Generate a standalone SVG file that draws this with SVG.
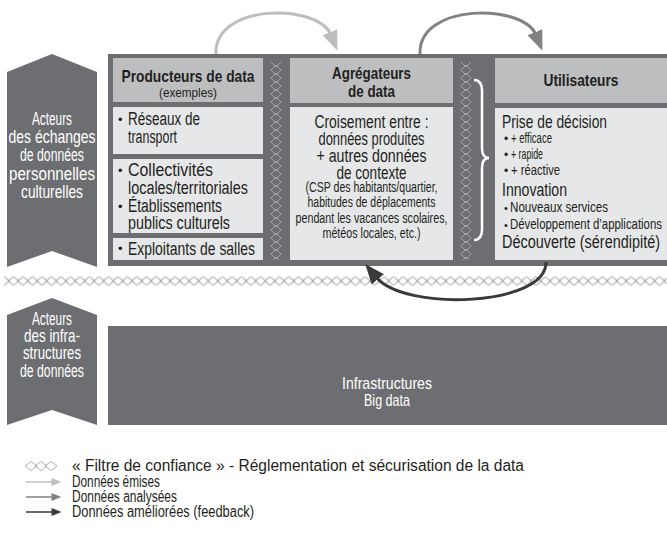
<svg xmlns="http://www.w3.org/2000/svg" width="667" height="534" viewBox="0 0 667 534">
<style>
.t{font-family:"Liberation Sans",Arial,sans-serif;fill:#231f20}
.w{fill:#ffffff}
.b{font-weight:bold}
.c{text-anchor:middle}
.dark{fill:#6d6e71}
.hdr{fill:#bcbec0}
.body{fill:#e6e7e8}
.a1{fill:none;stroke:#bcbec0;stroke-width:3}
.a2{fill:none;stroke:#808285;stroke-width:3}
.a3{fill:none;stroke:#3a3a3c;stroke-width:3}
</style>
<defs>
<marker id="h1" viewBox="0 0 20 16" refX="3" refY="8" markerWidth="6.67" markerHeight="5.33" orient="auto" markerUnits="strokeWidth"><path d="M0,0 L20,8 L0,16 Z" fill="#bcbec0"/></marker>
<marker id="h2" viewBox="0 0 20 16" refX="3" refY="8" markerWidth="6.67" markerHeight="5.33" orient="auto" markerUnits="strokeWidth"><path d="M0,0 L20,8 L0,16 Z" fill="#808285"/></marker>
<marker id="h3" viewBox="0 0 20 16" refX="3" refY="8" markerWidth="6.67" markerHeight="5.33" orient="auto" markerUnits="strokeWidth"><path d="M0,0 L20,8 L0,16 Z" fill="#3a3a3c"/></marker>
<pattern id="hchain" patternUnits="userSpaceOnUse" x="4" y="276.5" width="9.5" height="9"><path d="M-5.2,4.5 L0,0.2 L5.2,4.5 L0,8.8 Z M4.3,4.5 L9.5,0.2 L14.7,4.5 L9.5,8.8 Z" fill="none" stroke="#a7a9ac" stroke-width="1"/></pattern>
<pattern id="vchain" patternUnits="userSpaceOnUse" x="271" y="62" width="10" height="8"><path d="M0,0 L5,-5 L10,0 L5,5 Z M0,8 L5,3 L10,8 L5,13 Z" fill="none" stroke="#a7a9ac" stroke-width="0.9"/></pattern>
</defs>

<g id="chevron-echanges">
<polygon class="dark" points="7,72 52,54 97,72 97,267 52,251 7,267"/>
<text class="t w c" font-size="18" x="52" y="125" textLength="40" lengthAdjust="spacingAndGlyphs">Acteurs</text>
<text class="t w c" font-size="18" x="52" y="143" textLength="87" lengthAdjust="spacingAndGlyphs">des échanges</text>
<text class="t w c" font-size="18" x="52" y="161" textLength="64" lengthAdjust="spacingAndGlyphs">de données</text>
<text class="t w c" font-size="18" x="52" y="180" textLength="86" lengthAdjust="spacingAndGlyphs">personnelles</text>
<text class="t w c" font-size="18" x="52" y="198" textLength="62" lengthAdjust="spacingAndGlyphs">culturelles</text>
</g>

<g id="panel">
<rect class="dark" x="108" y="54" width="559" height="212"/>
<rect x="271" y="62" width="10" height="198" fill="url(#vchain)"/>
<rect x="461" y="62" width="10" height="198" fill="url(#vchain)"/>
<path d="M474,80 Q482,80 482,91 L482,148 Q482,158 489,158 Q482,158 482,168 L482,229 Q482,240 474,240" fill="none" stroke="#ffffff" stroke-width="2.5"/>
</g>

<g id="producteurs">
<rect class="hdr" x="113" y="58" width="150" height="44"/>
<text class="t b c" font-size="17" x="188" y="82" textLength="133" lengthAdjust="spacingAndGlyphs">Producteurs de data</text>
<text class="t c" font-size="13" x="188" y="97" textLength="58" lengthAdjust="spacingAndGlyphs">(exemples)</text>
<rect class="body" x="113" y="107" width="150" height="47"/>
<text class="t" font-size="13" x="118" y="124">•</text>
<text class="t" font-size="18" x="128" y="125" textLength="72" lengthAdjust="spacingAndGlyphs">Réseaux de</text>
<text class="t" font-size="18" x="128" y="143" textLength="49" lengthAdjust="spacingAndGlyphs">transport</text>
<rect class="body" x="113" y="159" width="150" height="74"/>
<text class="t" font-size="13" x="118" y="175">•</text>
<text class="t" font-size="18" x="128" y="176" textLength="85" lengthAdjust="spacingAndGlyphs">Collectivités</text>
<text class="t" font-size="18" x="128" y="194" textLength="120" lengthAdjust="spacingAndGlyphs">locales/territoriales</text>
<text class="t" font-size="13" x="118" y="211">•</text>
<text class="t" font-size="18" x="128" y="212" textLength="94" lengthAdjust="spacingAndGlyphs">Établissements</text>
<text class="t" font-size="18" x="128" y="229" textLength="102" lengthAdjust="spacingAndGlyphs">publics culturels</text>
<rect class="body" x="113" y="238" width="150" height="22"/>
<text class="t" font-size="13" x="118" y="253">•</text>
<text class="t" font-size="18" x="128" y="255" textLength="127" lengthAdjust="spacingAndGlyphs">Exploitants de salles</text>
</g>

<g id="agregateurs">
<rect class="hdr" x="290" y="58" width="163" height="45"/>
<text class="t b c" font-size="17" x="371.5" y="79" textLength="79" lengthAdjust="spacingAndGlyphs">Agrégateurs</text>
<text class="t b c" font-size="17" x="371.5" y="97" textLength="47" lengthAdjust="spacingAndGlyphs">de data</text>
<rect class="body" x="290" y="107" width="163" height="153"/>
<text class="t c" font-size="18" x="371.5" y="128" textLength="114" lengthAdjust="spacingAndGlyphs">Croisement entre :</text>
<text class="t c" font-size="18" x="371.5" y="145" textLength="106" lengthAdjust="spacingAndGlyphs">données produites</text>
<text class="t c" font-size="18" x="371.5" y="162" textLength="110" lengthAdjust="spacingAndGlyphs">+ autres données</text>
<text class="t c" font-size="18" x="371.5" y="179" textLength="70" lengthAdjust="spacingAndGlyphs">de contexte</text>
<text class="t c" font-size="14" x="371.5" y="192" textLength="132" lengthAdjust="spacingAndGlyphs">(CSP des habitants/quartier,</text>
<text class="t c" font-size="14" x="371.5" y="207" textLength="128" lengthAdjust="spacingAndGlyphs">habitudes de déplacements</text>
<text class="t c" font-size="14" x="371.5" y="223" textLength="152" lengthAdjust="spacingAndGlyphs">pendant les vacances scolaires,</text>
<text class="t c" font-size="14" x="371.5" y="238" textLength="98" lengthAdjust="spacingAndGlyphs">météos locales, etc.)</text>
</g>

<g id="utilisateurs">
<rect class="hdr" x="495" y="58" width="172" height="45"/>
<text class="t b c" font-size="17" x="581" y="86" textLength="75" lengthAdjust="spacingAndGlyphs">Utilisateurs</text>
<rect class="body" x="495" y="108" width="172" height="152"/>
<text class="t" font-size="18" x="502" y="128" textLength="105" lengthAdjust="spacingAndGlyphs">Prise de décision</text>
<text class="t" font-size="12" x="504" y="143">•</text>
<text class="t" font-size="15" x="511" y="143" textLength="41" lengthAdjust="spacingAndGlyphs">+ efficace</text>
<text class="t" font-size="12" x="504" y="159">•</text>
<text class="t" font-size="15" x="511" y="159" textLength="32" lengthAdjust="spacingAndGlyphs">+ rapide</text>
<text class="t" font-size="12" x="504" y="175">•</text>
<text class="t" font-size="15" x="511" y="175" textLength="49" lengthAdjust="spacingAndGlyphs">+ réactive</text>
<text class="t" font-size="18" x="502" y="196" textLength="65" lengthAdjust="spacingAndGlyphs">Innovation</text>
<text class="t" font-size="11" x="504" y="212">•</text>
<text class="t" font-size="14" x="510" y="212" textLength="98" lengthAdjust="spacingAndGlyphs">Nouveaux services</text>
<text class="t" font-size="11" x="504" y="229">•</text>
<text class="t" font-size="14" x="510" y="229" textLength="152" lengthAdjust="spacingAndGlyphs">Développement d’applications</text>
<text class="t" font-size="18" x="502" y="248" textLength="158" lengthAdjust="spacingAndGlyphs">Découverte (sérendipité)</text>
</g>

<g id="filtre">
<rect x="4" y="276.5" width="663" height="9" fill="url(#hchain)"/>
</g>

<g id="chevron-infra">
<polygon class="dark" points="7,315 52,298 97,315 97,425 52,410 7,425"/>
<text class="t w c" font-size="18" x="52" y="325" textLength="40" lengthAdjust="spacingAndGlyphs">Acteurs</text>
<text class="t w c" font-size="18" x="52" y="342" textLength="56" lengthAdjust="spacingAndGlyphs">des infra-</text>
<text class="t w c" font-size="18" x="52" y="359" textLength="58" lengthAdjust="spacingAndGlyphs">structures</text>
<text class="t w c" font-size="18" x="52" y="377" textLength="64" lengthAdjust="spacingAndGlyphs">de données</text>
</g>

<g id="infrastructures">
<rect class="dark" x="108" y="326" width="559" height="99"/>
<text class="t w c" font-size="17" x="387" y="389" textLength="90" lengthAdjust="spacingAndGlyphs">Infrastructures</text>
<text class="t w c" font-size="17" x="387" y="406" textLength="46" lengthAdjust="spacingAndGlyphs">Big data</text>
</g>

<g id="connectors">
<path class="a1" d="M216,54 C214,3 318,3 331,35" marker-end="url(#h1)"/>
<path class="a2" d="M420,54 C418,3 523,3 536,35" marker-end="url(#h2)"/>
<path class="a3" d="M546,262 C547,306 405,312 376,277" marker-end="url(#h3)"/>
</g>

<g id="legend">
<path d="M25,466 L31,461.5 L37,466 L31,470.5 Z M35,466 L41,461.5 L47,466 L41,470.5 Z M45,466 L51,461.5 L57,466 L51,470.5 Z" fill="none" stroke="#a7a9ac" stroke-width="0.9"/>
<text class="t" font-size="16" x="72" y="471" textLength="452" lengthAdjust="spacingAndGlyphs">« Filtre de confiance » - Réglementation et sécurisation de la data</text>
<path class="a1" style="stroke-width:1.5" d="M26,482 L53,482" marker-end="url(#h1)"/>
<text class="t" font-size="16" x="72" y="487" textLength="88" lengthAdjust="spacingAndGlyphs">Données émises</text>
<path class="a2" style="stroke-width:1.5" d="M26,497 L53,497" marker-end="url(#h2)"/>
<text class="t" font-size="16" x="72" y="502" textLength="105" lengthAdjust="spacingAndGlyphs">Données analysées</text>
<path class="a3" style="stroke-width:1.5" d="M26,512 L53,512" marker-end="url(#h3)"/>
<text class="t" font-size="16" x="72" y="517" textLength="182" lengthAdjust="spacingAndGlyphs">Données améliorées (feedback)</text>
</g>
</svg>
